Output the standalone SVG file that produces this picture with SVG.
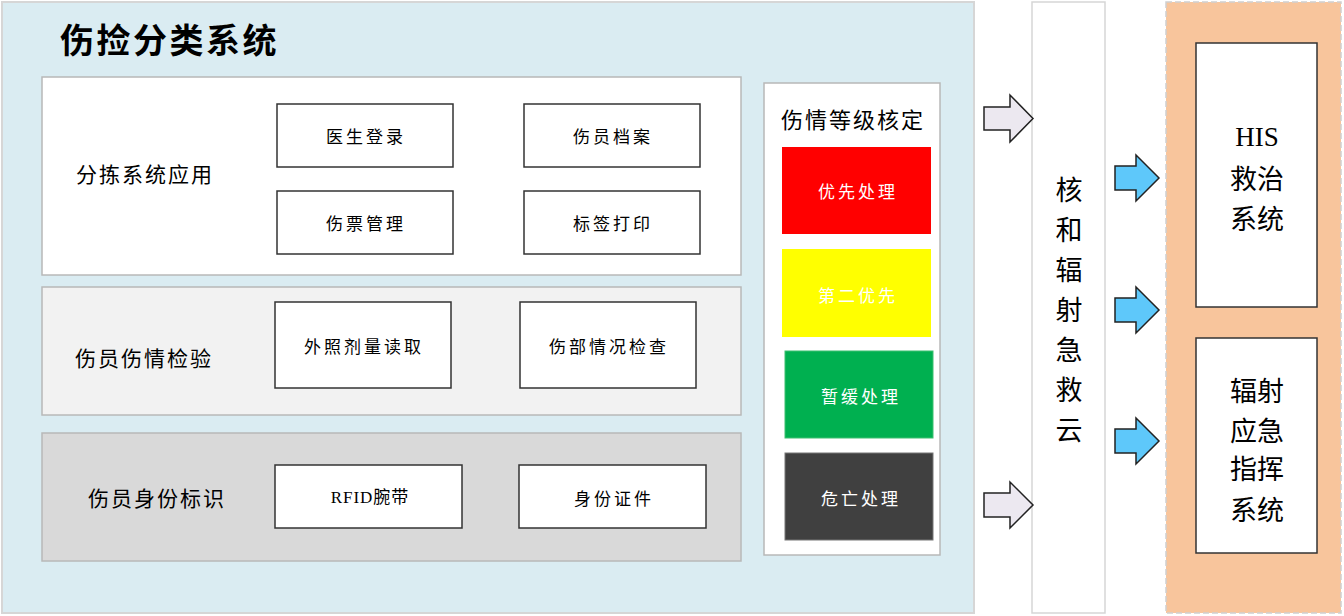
<svg xmlns="http://www.w3.org/2000/svg" width="1344" height="616" viewBox="0 0 1344 616">
<defs>
<style>
text{font-family:"Noto Sans CJK SC","Liberation Sans",sans-serif;dominant-baseline:central;}
.c{text-anchor:middle;}
.box{fill:#fff;stroke:#333;stroke-width:1.5;}
.panel{stroke:#b8b8b8;stroke-width:1.5;}
.bt{font-size:17px;letter-spacing:3px;fill:#000;}
.lt{font-size:21px;letter-spacing:2px;fill:#000;}
.gt{font-size:17px;letter-spacing:3px;fill:#fff;}
.big{font-size:27px;fill:#000;}
.ga{fill:#ECE8F0;stroke:#222;stroke-width:1.5;}
.ba{fill:#5EC8FA;stroke:#222;stroke-width:1.5;}
</style>
</defs>
<rect width="1344" height="616" fill="#fff"/>
<g id="triage-system">
<rect x="2" y="2" width="972" height="611" fill="#DAECF2" stroke="#d6d6d6" stroke-width="2"/>
<text x="60" y="38" style="font-size:34px;font-weight:bold;letter-spacing:2.5px;fill:#000">伤捡分类系统</text>
</g>
<g id="app-panel">
<rect class="panel" x="42" y="77" width="699" height="198" fill="#fff"/>
<text class="lt" x="76" y="173">分拣系统应用</text>
</g>
<g id="n-doctor"><rect class="box" x="277" y="104" width="176" height="63"/><text class="bt c" x="366" y="135">医生登录</text></g>
<g id="n-record"><rect class="box" x="524" y="104" width="176" height="63"/><text class="bt c" x="613" y="135">伤员档案</text></g>
<g id="n-ticket"><rect class="box" x="277" y="191" width="176" height="63"/><text class="bt c" x="366" y="222">伤票管理</text></g>
<g id="n-label"><rect class="box" x="524" y="191" width="176" height="63"/><text class="bt c" x="613" y="222">标签打印</text></g>
<g id="check-panel">
<rect class="panel" x="42" y="287" width="699" height="128" fill="#F2F2F2"/>
<text class="lt" x="75" y="357">伤员伤情检验</text>
</g>
<g id="n-dose"><rect class="box" x="275" y="302" width="176" height="86"/><text class="bt c" x="364" y="345">外照剂量读取</text></g>
<g id="n-wound"><rect class="box" x="520" y="302" width="176" height="86"/><text class="bt c" x="609" y="345">伤部情况检查</text></g>
<g id="id-panel">
<rect class="panel" x="42" y="433" width="699" height="128" fill="#D9D9D9"/>
<text class="lt" x="88" y="497">伤员身份标识</text>
</g>
<g id="n-rfid"><rect class="box" x="275" y="465" width="187" height="63"/><text class="bt c" x="370" y="497" style="font-family:'Liberation Serif','Noto Sans CJK SC',serif;letter-spacing:1px">RFID腕带</text></g>
<g id="n-idcard"><rect class="box" x="519" y="465" width="187" height="63"/><text class="bt c" x="614" y="497">身份证件</text></g>
<g id="grade-panel">
<rect class="panel" x="764" y="83" width="176" height="472" fill="#fff"/>
<text class="c" x="853" y="118" style="font-size:22px;letter-spacing:2px;fill:#000">伤情等级核定</text>
</g>
<g id="g-red"><rect x="782" y="147" width="149" height="87" fill="#FF0000"/><text class="gt c" x="858" y="190">优先处理</text></g>
<g id="g-yellow"><rect x="782" y="249" width="149" height="88" fill="#FFFF00"/><text class="gt c" x="858" y="294">第二优先</text></g>
<g id="g-green"><rect x="785" y="351" width="148" height="87" fill="#00B050" stroke="#3cc070" stroke-width="1"/><text class="gt c" x="861" y="395">暂缓处理</text></g>
<g id="g-dark"><rect x="785" y="453" width="148" height="87" fill="#404040" stroke="#777" stroke-width="1"/><text class="gt c" x="861" y="497">危亡处理</text></g>
<g id="cloud">
<rect x="1032" y="2" width="73" height="611" fill="#fff" stroke="#d6d6d6" stroke-width="1.5"/>
<text class="big c" x="1069" y="188">核<tspan x="1069" dy="40">和</tspan><tspan x="1069" dy="40">辐</tspan><tspan x="1069" dy="40">射</tspan><tspan x="1069" dy="40">急</tspan><tspan x="1069" dy="40">救</tspan><tspan x="1069" dy="40">云</tspan></text>
</g>
<g id="external">
<rect x="1166" y="2" width="175" height="611" fill="#F8C59C" stroke="#d0d0d0" stroke-width="1.5" stroke-dasharray="6 3"/>
</g>
<g id="n-his">
<rect class="box" x="1196" y="43" width="121" height="264"/>
<text class="big c" x="1257" y="137" style="font-family:'Liberation Serif','Noto Sans CJK SC',serif">HIS</text>
<text class="big c" x="1257" y="177">救治</text>
<text class="big c" x="1257" y="217">系统</text>
</g>
<g id="n-command">
<rect class="box" x="1196" y="338" width="121" height="215"/>
<text class="big c" x="1257" y="389">辐射</text>
<text class="big c" x="1257" y="429">应急</text>
<text class="big c" x="1257" y="467">指挥</text>
<text class="big c" x="1257" y="508">系统</text>
</g>
<g id="connectors">
<path class="ga" d="M984,107 H1010 V95 L1033,118.5 L1010,142 V130 H984 Z"/>
<path class="ga" d="M984,493 H1010 V482 L1033,505 L1010,528 V517 H984 Z"/>
<path class="ba" d="M1115,166 H1136 V155 L1159,178 L1136,201 V190 H1115 Z"/>
<path class="ba" d="M1115,298 H1136 V287 L1159,310 L1136,333 V322 H1115 Z"/>
<path class="ba" d="M1115,429 H1136 V418 L1159,441 L1136,464 V453 H1115 Z"/>
</g>
</svg>
